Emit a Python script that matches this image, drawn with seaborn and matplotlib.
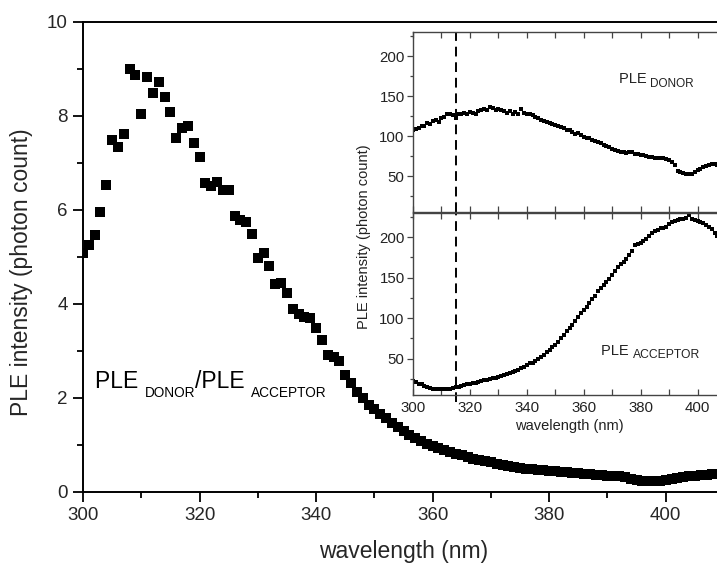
import numpy as np
import pandas as pd
import matplotlib
matplotlib.use("Agg")
import matplotlib.pyplot as plt
import matplotlib.transforms as mtransforms
from matplotlib.ticker import MultipleLocator
import seaborn as sns

# ---------------- data ----------------
wl_main = list(range(300, 410))
ratio = [5.08, 5.26, 5.47, 5.95, 6.53, 7.49, 7.34, 7.62, 9.00, 8.87,
         8.04, 8.84, 8.49, 8.72, 8.40, 8.09, 7.53, 7.75, 7.79, 7.43,
         7.13, 6.57, 6.51, 6.60, 6.43, 6.43, 5.87, 5.79, 5.74, 5.49,
         4.98, 5.08, 4.81, 4.43, 4.45, 4.23, 3.90, 3.78, 3.72, 3.70,
         3.49, 3.23, 2.91, 2.87, 2.79, 2.49, 2.32, 2.13, 2.00, 1.86,
         1.76, 1.66, 1.57, 1.47, 1.38, 1.30, 1.22, 1.15, 1.08, 1.03,
         0.98, 0.93, 0.89, 0.85, 0.81, 0.78, 0.75, 0.71, 0.68, 0.66,
         0.63, 0.60, 0.58, 0.56, 0.54, 0.52, 0.50, 0.49, 0.47, 0.46,
         0.45, 0.44, 0.43, 0.42, 0.41, 0.40, 0.39, 0.38, 0.37, 0.36,
         0.35, 0.34, 0.33, 0.31, 0.27, 0.25, 0.24, 0.23, 0.23, 0.24,
         0.26, 0.28, 0.30, 0.32, 0.33, 0.34, 0.36, 0.37, 0.38, 0.39]

wl_inset = list(range(300, 408))
donor = [107, 109, 110, 112, 113, 116, 115, 119, 120, 118,
         122, 124, 128, 127, 126, 123, 127, 128, 129, 128,
         130, 129, 128, 131, 132, 134, 133, 136, 135, 133,
         134, 132, 131, 129, 131, 128, 130, 127, 134, 129,
         128, 127, 126, 124, 122, 120, 119, 117, 116, 115,
         114, 113, 111, 110, 108, 107, 105, 103, 104, 101,
         99, 98, 97, 95, 94, 92, 91, 89, 87, 86,
         84, 83, 81, 80, 80, 79, 80, 80, 78, 77,
         76, 76, 75, 74, 74, 73, 73, 72, 72, 71,
         70, 68, 64, 56, 55, 54, 53, 52, 53, 55,
         57, 59, 61, 63, 64, 65, 65, 64]
acceptor = [22, 21, 19, 18, 16, 15, 14, 13, 12.5, 12,
            12, 12, 12.5, 13, 14, 15, 15.5, 16, 17, 18,
            19, 19.5, 20, 21, 22, 23, 24, 25, 26, 26.5,
            27.5, 29, 30, 31, 32, 33.5, 35, 36.5, 38, 40,
            42, 44, 45, 47.5, 50, 52, 55, 58, 61, 64,
            67, 71, 75, 79, 84, 88, 92, 97, 101, 106,
            110, 114, 119, 124, 128, 133, 137, 141, 145, 148,
            153, 158, 163, 167, 170, 173, 178, 183, 190, 192,
            193, 195, 198, 201, 205, 208, 209, 211, 212, 213,
            216, 219, 220, 221, 222, 223, 224, 227, 223, 221,
            220, 219, 218, 215, 213, 210, 205, 201]

main_xticks = [300, 320, 340, 360, 380, 400]
main_yticks = [0, 2, 4, 6, 8, 10]
inset_yticks = [50, 100, 150, 200]
dash_wl = 315

# ---------------- style ----------------
sns.set_style("ticks")
plt.rcParams['font.family'] = ['Liberation Sans', 'DejaVu Sans']

W, H = 717, 564
fig = plt.figure(figsize=(W / 100, H / 100), dpi=100)

def fr(l, t, r, b):
    return [l / W, 1 - b / H, (r - l) / W, (b - t) / H]

# ---------------- main axes ----------------
ax = fig.add_axes(fr(83, 22, 724, 492))
df_main = pd.DataFrame({"wl": wl_main, "ratio": ratio})
sns.scatterplot(data=df_main, x="wl", y="ratio", ax=ax, marker="s", s=62,
                color="black", linewidth=0, legend=False)
ax.set_xlim(300, 410)
ax.set_ylim(0, 10)
ax.set_xticks(main_xticks)
ax.set_yticks(main_yticks)
ax.xaxis.set_minor_locator(MultipleLocator(10))
ax.yaxis.set_minor_locator(MultipleLocator(1))
ax.tick_params(axis="both", which="major", direction="out", length=7,
               width=1.3, labelsize=13.5, pad=4, color="black")
ax.tick_params(axis="both", which="minor", direction="out", length=4,
               width=1.3, color="black")
for s in ax.spines.values():
    s.set_linewidth(1.4)
    s.set_color("black")
ax.set_xlabel("wavelength (nm)", fontsize=16.5, labelpad=11)
ax.set_ylabel("PLE intensity (photon count)", fontsize=16.5)
ax.yaxis.set_label_coords(-0.078, 0.468)

renderer = fig.canvas.get_renderer()

def piece_text(axis, x, y, pieces, color="black"):
    dx = 0.0
    for txt, size, dy in pieces:
        tr = mtransforms.offset_copy(axis.transData, fig=fig, x=dx, y=dy, units="dots")
        t = axis.text(x, y, txt, fontsize=size, transform=tr, va="baseline",
                      ha="left", color=color)
        bb = t.get_window_extent(renderer=renderer)
        dx += bb.width

piece_text(ax, 302.1, 2.21, [("PLE ", 16.5, 0), ("DONOR", 9.8, -9),
                             ("/PLE ", 16.5, 0), ("ACCEPTOR", 9.8, -9)])

# ---------------- inset ----------------
gray = "#444444"
ax_top = fig.add_axes(fr(413, 32, 726, 212))
ax_bot = fig.add_axes(fr(413, 213, 726, 395))

df_in = pd.DataFrame({"wl": wl_inset, "donor": donor, "acceptor": acceptor})
sns.scatterplot(data=df_in, x="wl", y="donor", ax=ax_top, marker="s", s=7,
                color="black", linewidth=0, legend=False)
sns.scatterplot(data=df_in, x="wl", y="acceptor", ax=ax_bot, marker="s", s=7,
                color="black", linewidth=0, legend=False)

for a in (ax_top, ax_bot):
    a.set_facecolor("white")
    a.set_xlim(300, 410)
    a.set_ylim(5, 230)
    a.set_xticks(main_xticks)
    a.xaxis.set_minor_locator(MultipleLocator(10))
    a.set_yticks(inset_yticks)
    a.yaxis.set_minor_locator(MultipleLocator(25))
    a.tick_params(axis="y", which="major", direction="out", length=4,
                  width=0.9, labelsize=10.8, pad=2, color=gray, labelcolor="#222222")
    a.tick_params(axis="y", which="minor", direction="out", length=2,
                  width=0.9, color=gray)
    a.tick_params(axis="x", which="both", direction="in", length=4,
                  width=0.9, labelsize=10.8, pad=4, color=gray, labelcolor="#222222",
                  top=True)
    for s in a.spines.values():
        s.set_linewidth(1.0)
        s.set_color(gray)
    a.set_xlabel("")
    a.set_ylabel("")

ax_top.tick_params(axis="x", labelbottom=False)
ax_bot.set_xlabel("wavelength (nm)", fontsize=10.5, labelpad=3, color="#222222")

ax_top.axvline(dash_wl, color="black", lw=1.4, ls=(0, (5, 3)))
ax_bot.axvline(dash_wl, ymin=-0.04, ymax=1, color="black", lw=1.4,
               ls=(0, (5, 3)), clip_on=False)

fig.text(364 / W, 1 - 237 / H, "PLE intensity (photon count)", rotation=90,
         ha="center", va="center", fontsize=10.5, color="#222222")

piece_text(ax_top, 372.3, 166, [("PLE ", 10.5, 0), ("DONOR", 8.5, -4)], color="#222222")
piece_text(ax_bot, 366.0, 54, [("PLE ", 10.5, 0), ("ACCEPTOR", 8.7, -3)], color="#222222")

fig.savefig("out.png", dpi=100)
